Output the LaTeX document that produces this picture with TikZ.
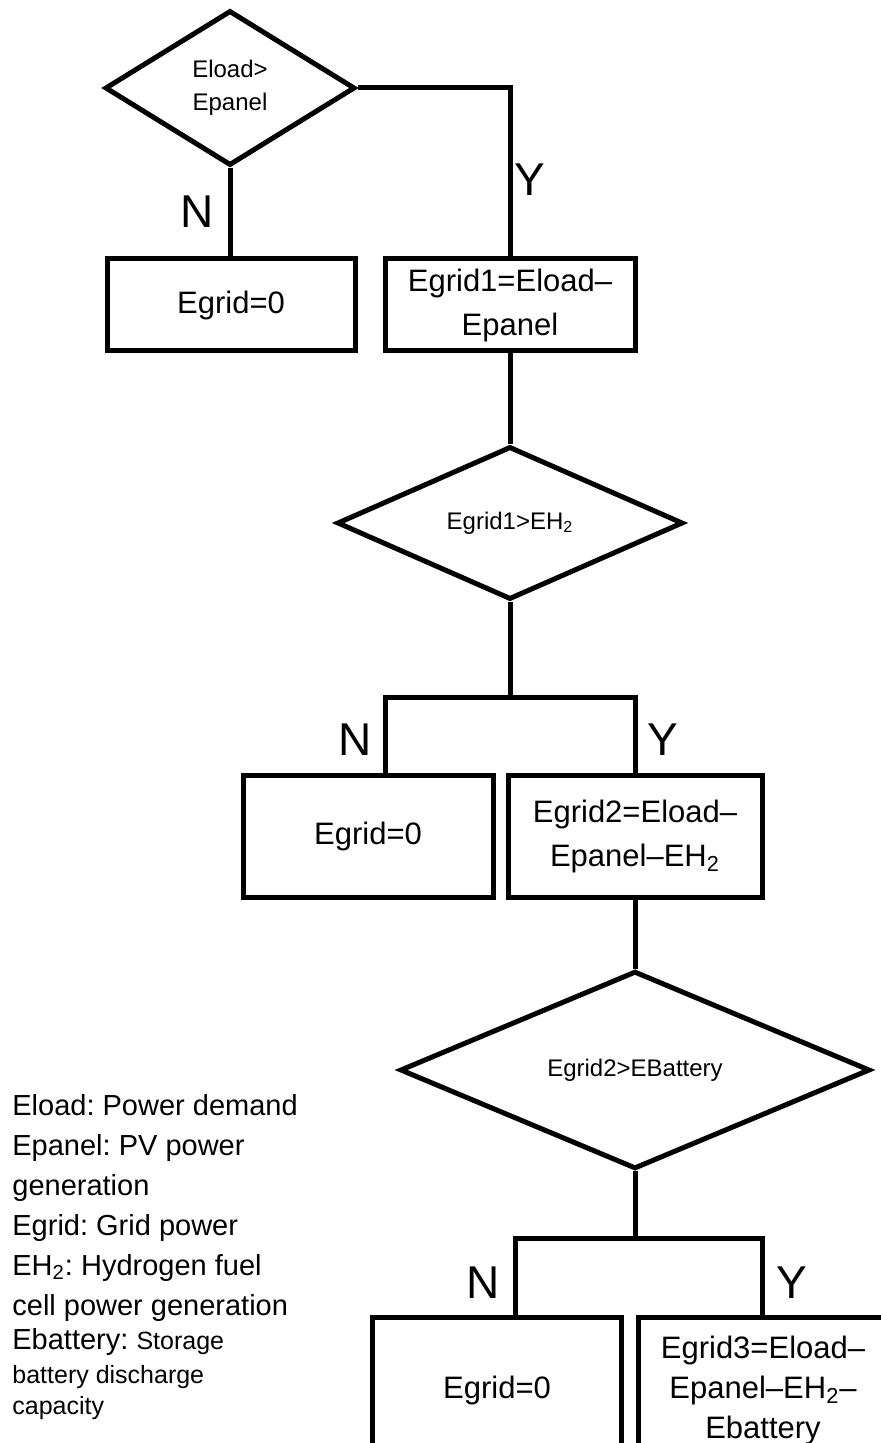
\documentclass[tikz,border=0pt]{standalone}
\usepackage{fontspec}
\setmainfont{Liberation Sans}
\usetikzlibrary{shapes.geometric}
\frenchspacing

\begin{document}
\begin{tikzpicture}[x=0.5pt, y=-0.5pt,
  decision/.style={diamond, draw, line width=2.5pt, inner sep=0pt, align=center, font=\fontsize{12}{16.5}\selectfont},
  stepbox/.style={rectangle, draw, line width=2.5pt, align=center, font=\fontsize{15.5}{22}\selectfont},
  link/.style={line width=2.5pt},
  yn/.style={font=\fontsize{23}{23}\selectfont}]
\useasboundingbox (0,0) rectangle (881,1443);

% first test: load against panel
\node[decision, minimum width=125pt, minimum height=77.5pt] (dLoad) at (230,88) {Eload>\\Epanel};
\node[stepbox, minimum width=124pt, minimum height=46pt] (bZero1) at (231,305) {Egrid=0};
\node[stepbox, minimum width=125pt, minimum height=46pt] (bGrid1) at (510,305) {Egrid1=Eload–\\Epanel};
\draw[link] (dLoad.south) -- (dLoad.south |- bZero1.north);
\draw[link] (dLoad.east) -| (bGrid1.north);
\node[yn] (n1) at (197,212) {N};
\node[yn] (y1) at (530,180) {Y};

% second test: hydrogen
\node[decision, minimum width=173pt, minimum height=76.5pt] (dH2) at (510,523) {Egrid1>EH\textsubscript{2}};
\draw[link] (bGrid1.south) -- (dH2.north);
\coordinate (fork2) at (510,697);
\coordinate (fork2n) at (385,697);
\coordinate (fork2y) at (635,697);
\node[stepbox, minimum width=125pt, minimum height=61pt] (bZero2) at (368,836) {Egrid=0};
\node[stepbox, minimum width=127pt, minimum height=61pt] (bGrid2) at (635,836) {Egrid2=Eload–\\Epanel–EH\textsubscript{2}};
\draw[link] (dH2.south) -- (fork2);
\draw[link] (fork2n |- bZero2.north) -- (fork2n) -- (fork2y) -- (bGrid2.north);
\node[yn] (n2) at (355,740) {N};
\node[yn] (y2) at (663,740) {Y};

% third test: battery
\node[decision, minimum width=235pt, minimum height=77.5pt] (dBat) at (635,1070) {Egrid2>EBattery};
\draw[link] (bGrid2.south) -- (dBat.north);
\coordinate (fork3) at (635,1238);
\coordinate (fork3n) at (515,1238);
\coordinate (fork3y) at (762,1238);
\node[stepbox, minimum width=124.5pt, minimum height=73pt] (bZero3) at (497,1390) {Egrid=0};
\node[stepbox, minimum width=125pt, minimum height=73pt, font=\fontsize{15.5}{20}\selectfont] (bGrid3) at (763,1390) {Egrid3=Eload–\\Epanel–EH\textsubscript{2}–\\Ebattery};
\draw[link] (dBat.south) -- (fork3);
\draw[link] (fork3n |- bZero3.north) -- (fork3n) -- (fork3y) -- (fork3y |- bGrid3.north);
\node[yn] (n3) at (483,1283) {N};
\node[yn] (y3) at (792,1283) {Y};

% key
\node[anchor=north west, align=left, inner sep=0pt, font=\fontsize{14.5}{20}\selectfont] (key) at (12,1094)
  {Eload: Power demand\\ Epanel: PV power\\ generation\\ Egrid: Grid power\\
   EH\textsubscript{2}: Hydrogen fuel\\ cell power generation\\[-3pt]
   Ebattery: {\fontsize{12.5}{14}\selectfont Storage}\\[-3pt]
   {\fontsize{12.5}{14}\selectfont battery discharge}\\[-4.5pt]
   {\fontsize{12.5}{14}\selectfont capacity}};
\end{tikzpicture}
\end{document}
